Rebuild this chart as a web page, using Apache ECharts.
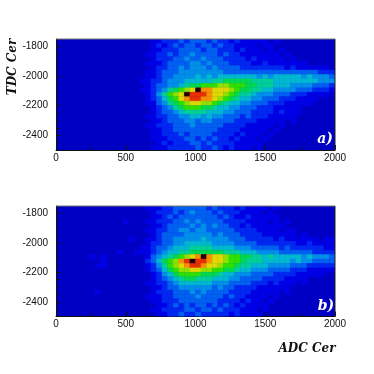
<!DOCTYPE html>
<html>
<head>
<meta charset="utf-8">
<style>html,body{margin:0;padding:0;background:#fff}#c{width:374px;height:374px;filter:blur(0.45px)}</style>
<script src="https://cdn.jsdelivr.net/npm/echarts@6/dist/echarts.min.js"></script>
</head>
<body>
<div id="c"></div>
<script>
// Histogram bins: first column starts at ADC 560, bin 40 wide; first row starts at TDC -1750, bin 30 tall
const adcStart = 560, adcBin = 40, tdcStart = -1750, tdcBin = 30;
const xTicks = [0, 500, 1000, 1500, 2000];
const yTicks = [-2400, -2200, -2000, -1800];
const panelLabels = ['a)', 'b)'];
const xTitle = 'ADC Cer', yTitle = 'TDC Cer';

const countsA = [
[0,0,0,1,1,2,2,2,3,2,3,3,3,2,3,2,2,1,2,1,1,1,1,1,0,1,0,0,0,0,0,0,0,0,0,0],
[0,0,0,1,2,1,2,3,2,3,3,2,3,3,2,3,2,2,1,1,1,1,0,1,1,0,0,0,0,0,0,0,0,0,0,0],
[0,0,0,1,1,2,2,2,3,3,3,3,2,3,3,2,2,2,1,2,1,1,1,0,1,0,1,0,0,0,0,0,0,0,0,0],
[0,0,1,1,2,2,3,2,3,3,4,3,3,3,3,2,3,2,2,1,1,1,1,1,1,1,0,1,0,0,0,0,0,0,0,0],
[0,0,0,1,2,2,2,3,3,4,3,3,4,3,3,3,2,2,2,2,1,2,1,1,1,1,1,0,1,0,0,0,0,0,0,0],
[0,0,1,1,1,2,3,3,3,3,4,4,3,4,3,3,3,2,2,2,2,1,1,2,1,1,1,1,1,1,1,0,0,0,0,0],
[0,0,0,1,2,2,3,3,4,3,4,4,4,3,4,3,3,3,3,2,2,2,2,2,2,2,2,1,2,1,1,1,1,1,1,0],
[0,0,1,1,2,3,3,3,4,4,4,4,4,4,4,4,3,3,3,3,3,3,3,3,3,3,3,3,3,3,3,3,3,2,2,2],
[0,0,1,1,2,3,3,4,4,4,4,5,4,5,4,5,5,5,5,5,5,5,4,5,4,5,5,5,5,5,4,5,4,4,4,3],
[0,1,1,2,2,3,4,4,4,5,5,5,5,5,6,6,7,7,7,7,7,6,6,6,6,5,5,5,5,5,5,5,5,4,4,4],
[0,0,1,2,3,3,4,4,5,6,7,7,8,8,8,9,9,8,8,8,7,7,6,6,6,5,5,5,4,4,4,4,3,3,3,2],
[0,1,1,2,3,4,6,7,8,9,10,13,11,11,10,10,10,9,8,7,7,6,6,5,5,4,4,4,4,3,3,3,2,2,2,1],
[0,0,1,2,4,6,8,9,10,13,12,12,12,11,10,10,9,8,7,6,6,5,4,4,4,3,3,3,2,2,2,1,1,1,1,0],
[0,0,1,2,3,5,7,8,10,11,12,12,11,11,10,9,8,7,6,5,5,4,4,3,3,3,2,2,2,1,1,1,1,0,0,0],
[0,0,1,1,3,4,6,7,8,9,10,10,9,9,8,7,6,5,5,4,4,3,3,3,2,2,2,1,1,1,1,1,0,0,0,0],
[0,0,0,1,2,3,4,6,7,8,8,8,7,7,6,5,5,4,4,3,3,3,2,2,2,1,1,1,1,1,0,0,0,0,0,0],
[0,0,0,1,2,3,3,4,5,6,6,6,6,5,5,5,4,4,3,3,3,2,2,2,2,1,2,1,1,1,0,0,0,0,0,0],
[0,0,1,1,2,2,3,3,4,4,5,5,4,5,4,4,3,3,3,2,3,2,2,2,1,1,1,1,1,0,0,0,0,0,0,0],
[0,0,0,1,1,2,3,3,3,4,4,3,4,4,3,3,3,3,2,2,2,2,1,1,1,1,1,0,1,0,0,0,0,0,0,0],
[0,0,1,1,2,2,2,3,3,3,4,3,3,3,3,3,2,2,2,2,1,1,1,1,1,0,1,0,0,0,0,0,0,0,0,0],
[0,0,0,1,1,2,2,3,3,3,3,3,3,3,3,2,2,2,2,1,1,1,1,1,0,1,0,0,0,0,0,0,0,0,0,0],
[0,0,0,1,1,2,2,2,3,2,3,3,3,3,2,2,2,2,1,2,1,1,1,0,1,0,0,0,0,0,0,0,0,0,0,0],
[0,0,0,1,1,1,2,2,2,3,3,2,3,2,3,2,2,1,2,1,1,1,0,1,0,0,0,0,0,0,0,0,0,0,0,0],
[0,0,0,0,1,2,1,2,2,2,3,3,2,3,2,2,2,2,1,1,1,1,1,0,0,0,0,0,0,0,0,0,0,0,0,0],
[0,0,0,1,1,1,2,2,2,2,2,3,2,2,3,2,1,2,1,1,1,0,1,0,0,0,0,0,0,0,0,0,0,0,0,0]
];

const countsB = [
[0,0,1,1,1,2,2,3,3,3,3,3,3,2,3,2,2,2,1,2,1,1,1,1,0,1,0,0,0,0,0,0,0,0,0,0],
[0,0,0,1,2,2,2,3,2,3,4,3,3,3,2,3,2,2,2,1,1,1,1,0,1,0,0,0,0,0,0,0,0,0,0,0],
[0,0,0,1,1,2,3,2,3,3,3,3,3,3,3,2,3,2,1,1,2,1,1,1,1,1,0,0,0,0,0,0,0,0,0,0],
[0,0,1,1,2,2,2,3,3,4,3,4,3,3,3,3,2,2,2,2,1,1,1,1,0,1,0,1,0,0,0,0,0,0,0,0],
[0,0,0,1,1,2,3,3,3,3,4,3,4,3,4,3,3,2,2,1,2,1,1,1,1,1,1,0,0,0,0,0,0,0,0,0],
[0,0,1,1,2,2,3,3,4,4,3,4,4,3,3,3,3,3,2,2,2,2,1,1,1,1,0,1,1,0,0,0,0,0,0,0],
[0,0,0,1,2,3,3,3,3,4,4,4,4,4,3,4,3,3,3,2,2,2,2,1,1,1,1,1,1,0,1,0,0,0,0,0],
[0,0,1,1,2,3,3,4,4,4,4,4,5,4,4,4,4,3,3,3,2,2,2,2,2,1,2,1,1,1,1,1,1,0,1,1],
[0,0,1,2,2,3,3,4,4,5,5,5,5,5,4,4,4,4,3,3,3,3,2,2,2,2,2,2,2,1,1,2,1,1,1,1],
[0,0,1,2,3,3,4,5,5,5,6,6,6,6,5,5,5,5,4,4,4,3,3,3,3,3,2,3,2,2,2,2,2,2,1,1],
[0,1,1,2,3,4,5,5,6,6,7,7,7,7,7,7,6,6,6,5,5,5,4,4,4,4,3,3,3,3,3,3,2,2,2,2],
[0,0,1,3,4,5,6,7,8,9,10,11,13,11,10,10,9,8,8,7,7,6,6,5,6,5,5,5,5,5,4,5,4,4,4,3],
[0,0,2,3,5,7,8,9,11,12,13,12,12,11,10,10,9,8,8,7,6,6,6,5,5,5,5,5,4,5,4,4,3,3,3,3],
[0,0,1,2,4,6,8,9,10,11,12,12,11,10,10,9,8,8,7,6,6,5,5,5,4,4,4,4,3,3,3,2,2,2,2,2],
[0,0,1,2,3,5,7,8,9,9,10,10,9,9,8,8,7,7,6,5,5,4,4,4,3,3,3,3,2,2,2,1,1,1,1,1],
[0,0,0,1,2,4,5,7,8,8,8,8,7,7,7,6,5,5,4,4,4,3,3,3,3,2,2,2,2,1,1,1,1,1,0,0],
[0,0,0,1,2,3,4,5,6,7,7,6,6,6,5,5,5,4,4,3,3,3,3,2,2,2,2,1,1,1,1,0,0,0,0,0],
[0,0,1,1,2,2,3,4,5,5,5,5,5,5,4,4,4,3,3,3,3,2,2,2,1,2,1,1,1,0,1,0,0,0,0,0],
[0,0,0,1,1,2,3,3,4,4,4,4,4,4,3,4,3,3,2,2,2,2,1,1,1,1,1,1,0,0,0,0,0,0,0,0],
[0,0,0,1,2,2,2,3,3,3,4,3,4,3,3,3,3,2,2,2,2,1,1,1,1,1,0,1,0,0,0,0,0,0,0,0],
[0,0,1,1,1,2,2,3,3,3,3,4,3,3,3,3,2,3,2,2,1,1,1,1,0,1,0,0,0,0,0,0,0,0,0,0],
[0,0,0,1,1,2,2,2,3,3,3,3,3,3,3,2,2,2,2,1,2,1,1,0,1,0,0,0,0,0,0,0,0,0,0,0],
[0,0,0,0,1,1,2,3,2,3,2,3,3,2,3,2,3,2,1,2,1,1,1,1,0,0,0,0,0,0,0,0,0,0,0,0],
[0,0,0,1,1,2,2,2,2,3,3,2,3,3,2,3,2,2,2,1,1,1,0,1,0,0,0,0,0,0,0,0,0,0,0,0],
[0,0,0,0,1,1,2,2,3,2,2,3,2,2,2,2,2,1,2,1,1,1,1,0,0,0,0,0,0,0,0,0,0,0,0,0]
];

// Isolated low-count bins in panel b, left of the main band: [adc, tdc]
const straysB = [[240,-2080],[280,-2140],[320,-2140],[280,-2320],[320,-2110],[320,-2080],[440,-2050],[480,-1840],[520,-1960],[560,-2050],[600,-2020]];

const palette = ['#0000c4','#0000e6','#0028f0','#0060f0','#0090e8','#00b8d0','#00d098','#00d850','#30e000','#90e000','#e0d800','#f89000','#e83000','#200000'];

function cells(rows, strays) {
  const out = [];
  rows.forEach((row, r) => row.forEach((v, c) => {
    if (v > 0) out.push([adcStart + c * adcBin, tdcStart - r * tdcBin, v]);
  }));
  (strays || []).forEach(s => out.push([s[0], s[1], 1]));
  return out;
}

function renderCell(params, api) {
  const x = api.value(0), y = api.value(1), lvl = api.value(2);
  const p0 = api.coord([x, y]);
  const p1 = api.coord([x + adcBin, y - tdcBin]);
  const color = palette[lvl];
  return {
    type: 'rect',
    shape: { x: p0[0], y: p0[1], width: p1[0] - p0[0], height: p1[1] - p0[1] },
    style: { fill: color, stroke: color, lineWidth: 0.5 }
  };
}

const labelFont = { fontFamily: 'Liberation Sans', fontSize: 10, color: '#111' };
const tickFmt = v => String(v);
const grids = [
  { left: 56, width: 279, top: 39, height: 111, show: true, backgroundColor: palette[0], borderWidth: 0 },
  { left: 56, width: 279, top: 206, height: 110.5, show: true, backgroundColor: palette[0], borderWidth: 0 }
];

const xAxes = [0, 1].map(i => ({
  type: 'value', gridIndex: i, min: 0, max: 2000, interval: 500, position: 'bottom',
  splitLine: { show: false },
  axisLine: { show: true, onZero: false, lineStyle: { color: '#111', width: 1 } },
  axisTick: { show: true, inside: true, length: 5, lineStyle: { color: '#111', width: 1 } },
  minorTick: { show: true, splitNumber: 2, length: 3, lineStyle: { color: '#111', width: 1 } },
  axisLabel: Object.assign({ margin: 3, formatter: tickFmt, customValues: xTicks }, labelFont)
}));

const yAxes = [];
[0, 1].forEach(i => {
  yAxes.push({
    type: 'value', gridIndex: i, min: -2500, max: -1750, interval: 50, position: 'left',
    splitLine: { show: false },
    axisLine: { show: true, onZero: false, lineStyle: { color: '#111', width: 1 } },
    axisTick: { show: true, inside: true, length: 3, lineStyle: { color: '#111', width: 1 } },
    axisLabel: Object.assign({ margin: 8, padding: [3, 0, 0, 0], formatter: tickFmt, customValues: yTicks }, labelFont)
  });
  yAxes.push({
    type: 'value', gridIndex: i, min: -2500, max: -1750, position: 'left',
    splitLine: { show: false },
    axisLine: { show: false },
    axisTick: { show: true, inside: true, length: 5, customValues: yTicks, lineStyle: { color: '#111', width: 1 } },
    axisLabel: { show: false }
  });
});

const titleFont = 'italic bold 12px "DejaVu Serif"';
const option = {
  animation: false,
  backgroundColor: '#fff',
  grid: grids,
  xAxis: xAxes,
  yAxis: yAxes,
  series: [
    { type: 'custom', coordinateSystem: 'cartesian2d', xAxisIndex: 0, yAxisIndex: 0, clip: true, silent: true,
      renderItem: renderCell, data: cells(countsA), encode: { x: 0, y: 1 } },
    { type: 'custom', coordinateSystem: 'cartesian2d', xAxisIndex: 1, yAxisIndex: 2, clip: true, silent: true,
      renderItem: renderCell, data: cells(countsB, straysB), encode: { x: 0, y: 1 } }
  ],
  graphic: [
    { type: 'line', shape: { x1: 56, y1: 39, x2: 335, y2: 39 }, style: { stroke: '#777', lineWidth: 1 }, z: 50 },
    { type: 'line', shape: { x1: 56, y1: 206, x2: 335, y2: 206 }, style: { stroke: '#777', lineWidth: 1 }, z: 50 },
    { type: 'line', shape: { x1: 335, y1: 39, x2: 335, y2: 150 }, style: { stroke: '#222', lineWidth: 1 }, z: 50 },
    { type: 'line', shape: { x1: 335, y1: 206, x2: 335, y2: 316 }, style: { stroke: '#222', lineWidth: 1 }, z: 50 },
    { type: 'text', x: 13, y: 67, rotation: Math.PI / 2, z: 50,
      style: { text: yTitle, font: titleFont, fill: '#111', align: 'center', verticalAlign: 'middle' } },
    { type: 'text', x: 307, y: 349, z: 50,
      style: { text: xTitle, font: titleFont, fill: '#111', align: 'center', verticalAlign: 'middle' } },
    { type: 'text', x: 325, y: 139, z: 50,
      style: { text: panelLabels[0], font: 'italic bold 14px "DejaVu Serif"', fill: '#fff', align: 'center', verticalAlign: 'middle' } },
    { type: 'text', x: 326, y: 306, z: 50,
      style: { text: panelLabels[1], font: 'italic bold 14px "DejaVu Serif"', fill: '#fff', align: 'center', verticalAlign: 'middle' } }
  ]
};
echarts.init(document.getElementById('c'), null, { renderer: 'canvas' }).setOption(option);
</script>
</body>
</html>
